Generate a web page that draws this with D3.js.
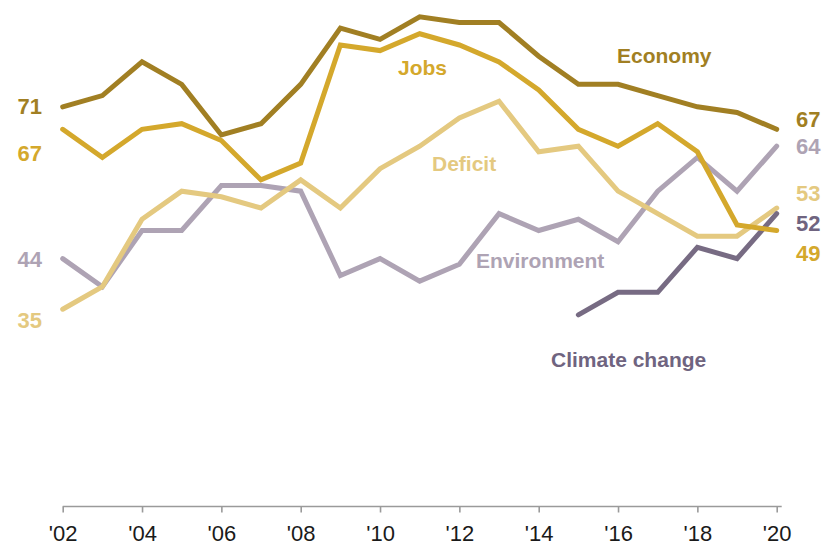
<!DOCTYPE html>
<html>
<head>
<meta charset="utf-8">
<script src="https://cdn.jsdelivr.net/npm/d3@7"></script>
<style>
  html, body { margin: 0; padding: 0; background: #fff; }
  svg { display: block; }
  text { font-family: "Liberation Sans", Arial, sans-serif; }
</style>
</head>
<body>
<svg id="chart" width="833" height="546"></svg>
<script>
// ---- data ----
const years = [2002,2003,2004,2005,2006,2007,2008,2009,2010,2011,2012,2013,2014,2015,2016,2017,2018,2019,2020];
const tickYears = [2002,2004,2006,2008,2010,2012,2014,2016,2018,2020];
const tickLabels = ["'02","'04","'06","'08","'10","'12","'14","'16","'18","'20"];
const seriesNames = ["Economy","Jobs","Deficit","Environment","Climate change"];
const economy     = [71,73,79,75,66,68,75,85,83,87,86,86,80,75,75,73,71,70,67];
const jobs        = [67,62,67,68,65,58,61,82,81,84,82,79,74,67,64,68,63,50,49];
const deficit     = [35,39,51,56,55,53,58,53,60,64,69,72,63,64,56,52,48,48,53];
const environment = [44,39,49,49,57,57,56,41,44,40,43,52,49,51,47,56,62,56,64];
const climate     = [null,null,null,null,null,null,null,null,null,null,null,null,null,34,38,38,46,44,52];

const colors = {
  "Economy": "#a17f23",
  "Jobs": "#d4a82c",
  "Deficit": "#e4c980",
  "Environment": "#aea3b4",
  "Climate change": "#776b83"
};

const svg = d3.select("#chart");
const x = d3.scaleLinear().domain([2002, 2020]).range([62.7, 776.7]);
const y = d3.scaleLinear().domain([0, 90]).range([506, 0]);

const seriesData = [economy, jobs, deficit, environment, climate];

// axis
const axis = d3.axisBottom(x)
  .tickValues(tickYears)
  .tickFormat((d, i) => tickLabels[i])
  .tickSize(6)
  .tickSizeOuter(0)
  .tickPadding(13);

const gAxis = svg.append("g").attr("transform", "translate(0,506.5)").call(axis);
gAxis.select(".domain").remove();
gAxis.append("line")
  .attr("x1", x(2002)).attr("x2", x(2020) + 5)
  .attr("y1", 0).attr("y2", 0)
  .attr("stroke", "#9a9a9a").attr("stroke-width", 1.6);
gAxis.selectAll(".tick line").attr("stroke", "#9a9a9a").attr("stroke-width", 1.6);
gAxis.selectAll(".tick text")
  .attr("fill", "#1a1a1a")
  .style("font-size", "22px")
  .style("font-family", "\"Liberation Sans\", Arial, sans-serif");

// lines
const line = d3.line()
  .defined(d => d.v != null)
  .x(d => x(d.year))
  .y(d => y(d.v));

// draw order: lighter/back first
const order = [3, 2, 4, 1, 0];
order.forEach(i => {
  const name = seriesNames[i];
  const pts = years.map((yr, j) => ({ year: yr, v: seriesData[i][j] }));
  svg.append("path")
    .datum(pts)
    .attr("fill", "none")
    .attr("stroke", colors[name])
    .attr("stroke-width", 5)
    .attr("stroke-linecap", "round")
    .attr("stroke-linejoin", "miter")
    .attr("d", line);
});

// series name labels
const nameLabels = [
  { name: "Economy", x: 617, y: 63 },
  { name: "Jobs", x: 398, y: 75 },
  { name: "Deficit", x: 432, y: 171 },
  { name: "Environment", x: 476, y: 268 },
  { name: "Climate change", x: 551, y: 367 }
];
svg.selectAll("text.name").data(nameLabels).enter().append("text")
  .attr("class", "name")
  .attr("x", d => d.x).attr("y", d => d.y)
  .attr("fill", d => d.name === "Climate change" ? "#6f6480" : colors[d.name])
  .style("font-size", "21px").style("font-weight", "bold")
  .text(d => d.name);

// endpoint labels
const startLabels = [
  { s: 0, y: 114 }, { s: 1, y: 161 }, { s: 3, y: 267 }, { s: 2, y: 328 }
];
svg.selectAll("text.start").data(startLabels).enter().append("text")
  .attr("class", "start")
  .attr("x", 42).attr("y", d => d.y)
  .attr("text-anchor", "end")
  .attr("fill", d => colors[seriesNames[d.s]])
  .style("font-size", "22px").style("font-weight", "bold")
  .text(d => seriesData[d.s][0]);

const endLabels = [
  { s: 0, y: 127 }, { s: 3, y: 154 }, { s: 2, y: 201 }, { s: 4, y: 231 }, { s: 1, y: 261 }
];
svg.selectAll("text.end").data(endLabels).enter().append("text")
  .attr("class", "end")
  .attr("x", 796).attr("y", d => d.y)
  .attr("fill", d => d.s === 4 ? "#6f6480" : colors[seriesNames[d.s]])
  .style("font-size", "22px").style("font-weight", "bold")
  .text(d => seriesData[d.s][years.length - 1]);
</script>
</body>
</html>
